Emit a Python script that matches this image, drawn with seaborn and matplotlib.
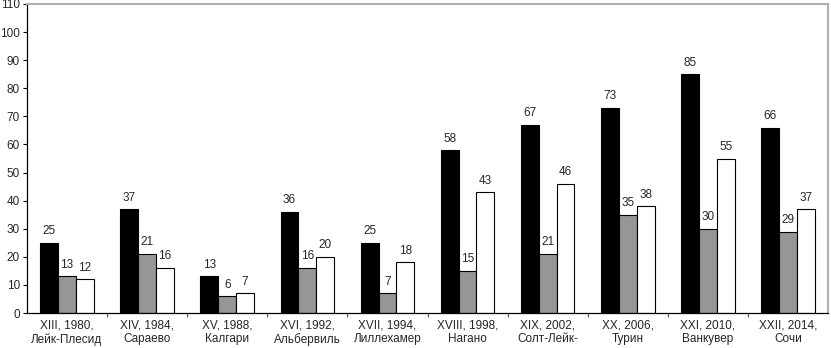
import matplotlib.pyplot as plt
import seaborn as sns
import pandas as pd

# Data
games = ['XIII, 1980,\nЛейк-Плесид', 'XIV, 1984,\nСараево', 'XV, 1988,\nКалгари',
         'XVI, 1992,\nАльбервиль', 'XVII, 1994,\nЛиллехамер', 'XVIII, 1998,\nНагано',
         'XIX, 2002,\nСолт-Лейк-', 'XX, 2006,\nТурин', 'XXI, 2010,\nВанкувер',
         'XXII, 2014,\nСочи']
series_a = [25, 37, 13, 36, 25, 58, 67, 73, 85, 66]
series_b = [13, 21, 6, 16, 7, 15, 21, 35, 30, 29]
series_c = [12, 16, 7, 20, 18, 43, 46, 38, 55, 37]
series_names = ['A', 'B', 'C']

df = pd.DataFrame({
    'game': games * 3,
    'value': series_a + series_b + series_c,
    'series': [series_names[0]] * 10 + [series_names[1]] * 10 + [series_names[2]] * 10,
})

sns.set_style('white')
plt.rcParams['font.family'] = ['Liberation Sans', 'DejaVu Sans']

fig = plt.figure(figsize=(8.31, 3.48), dpi=100)
ax = fig.add_axes([27 / 831, 35 / 348, 801 / 831, 309 / 348])

sns.barplot(data=df, x='game', y='value', hue='series', order=games,
            hue_order=series_names, palette=['black', '#969696', 'white'],
            edgecolor='black', linewidth=0.8, width=0.67, saturation=1,
            legend=False, ax=ax)

for c in ax.containers:
    ax.bar_label(c, padding=4, fontsize=8.5)

ax.set_ylim(0, 110)
ax.set_xlim(-0.5, len(games) - 0.5)
ax.set_yticks(range(0, 111, 10))
ax.set_xlabel('')
ax.set_ylabel('')
ax.tick_params(axis='y', length=3, width=0.8, color='black', labelsize=8.5, pad=2, left=True)
ax.tick_params(axis='x', which='major', length=0, labelsize=8.5, pad=5)
for lbl in ax.get_xticklabels():
    lbl.set_linespacing(1.15)
ax.set_xticks([i + 0.5 for i in range(len(games) - 1)], minor=True)
ax.tick_params(axis='x', which='minor', length=3, width=0.8, color='#555555', bottom=True)

for s in ['left', 'bottom']:
    ax.spines[s].set_color('black')
    ax.spines[s].set_linewidth(0.9)
for s in ['top', 'right']:
    ax.spines[s].set_color('#b0b0b0')
    ax.spines[s].set_linewidth(1.5)

fig.savefig('out.png', dpi=100)
